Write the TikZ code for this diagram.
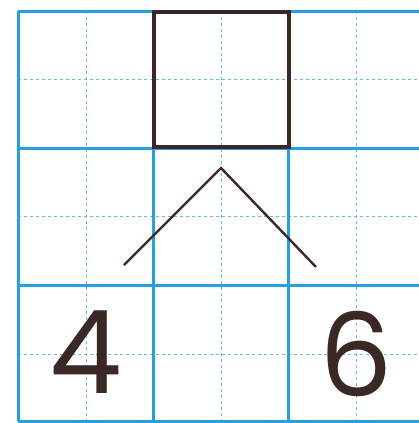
\documentclass[tikz,border=0pt]{standalone}
\usepackage{fontspec}
\setmainfont{Poppins}
\usepackage{xcolor}
\definecolor{gridblue}{RGB}{38,160,222}
\definecolor{inkbrown}{RGB}{58,40,38}
\tikzset{
  gridsolid/.style={draw=gridblue, line width=3bp},
  griddash/.style={draw=gridblue!70, line width=0.9bp, dash pattern=on 3bp off 3bp},
  answerbox/.style={draw=inkbrown, line width=4.5bp, minimum width=135bp,
    minimum height=135bp, inner sep=0pt},
  branch/.style={draw=inkbrown, line width=2.4bp},
  digit/.style={text=inkbrown, inner sep=0pt, font=\fontsize{116}{116}\selectfont}
}
\begin{document}
\begin{tikzpicture}[x=1bp,y=-1bp]
  \useasboundingbox (0,0) rectangle (419,423);
  % writing grid
  \foreach \gx in {86,221,356}
    \draw[griddash] (\gx,11) -- (\gx,421);
  \foreach \gy in {79,216,354}
    \draw[griddash] (18,\gy) -- (419,\gy);
  \foreach \gx in {18,153,288}
    \draw[gridsolid] (\gx,11) -- (\gx,421);
  \foreach \gy in {11,148,285,421}
    \draw[gridsolid] (18,\gy) -- (419,\gy);

  \node[answerbox] (total) at (221.5,79.5) {};
  \coordinate (split) at (221,168);
  \coordinate (leftleg) at (124,265);
  \coordinate (rightleg) at (316,267);
  \node[digit] (partleft) at (86,352) {4};
  \node[digit] (partright) at (356,354) {6};

  \draw[branch] (leftleg) -- (split) -- (rightleg);
\end{tikzpicture}
\end{document}
